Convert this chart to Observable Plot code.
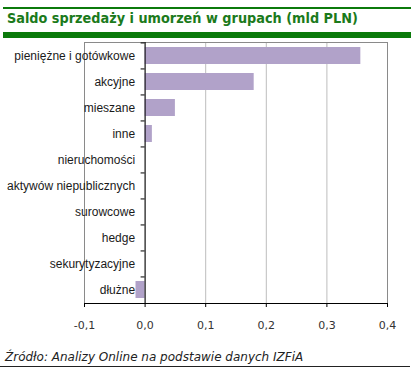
<!DOCTYPE html>
<html>
<head>
<meta charset="utf-8">
<script src="https://cdn.jsdelivr.net/npm/d3@7"></script>
<script src="https://cdn.jsdelivr.net/npm/@observablehq/plot@0.6"></script>
<style>
  html, body { margin: 0; padding: 0; background: #fff; }
  #root { position: relative; width: 413px; height: 368px; overflow: hidden; background: #fff; }
  .gline { position: absolute; background: #0b7a0b; }
  #title { position: absolute; left: 7px; top: 10px; font-family: "DejaVu Sans Condensed", "DejaVu Sans", sans-serif; font-weight: bold; font-size: 14.3px; color: #1b7a1b; white-space: nowrap; }
  #chart { position: absolute; left: 0; top: 40px; }
  #caption { position: absolute; left: 5px; top: 350px; font-family: "DejaVu Sans", sans-serif; font-style: italic; font-size: 12px; color: #222; white-space: nowrap; }
  #bline { position: absolute; left: 0; top: 366px; width: 410px; height: 1px; background: #222; }
</style>
</head>
<body>
<div id="root">
  <div class="gline" style="left:3px;top:7px;width:408px;height:2px;"></div>
  <div id="title">Saldo sprzedaży i umorzeń w grupach (mld PLN)</div>
  <div class="gline" style="left:3px;top:32px;width:408px;height:6px;"></div>
  <div id="chart"></div>
  <div id="caption">Źródło: Analizy Online na podstawie danych IZFiA</div>
  <div id="bline"></div>
</div>
<script>
const categories = ["pieniężne i gotówkowe", "akcyjne", "mieszane", "inne", "nieruchomości", "aktywów niepublicznych", "surowcowe", "hedge", "sekurytyzacyjne", "dłużne"];
const values = [0.356, 0.180, 0.050, 0.012, 0, 0, 0, 0, 0, -0.015];
const xTicks = [-0.1, 0, 0.1, 0.2, 0.3, 0.4];

const data = categories.map((c, i) => ({category: c, value: values[i]}));

const W = 413, H = 290, mT = 2, mB = 27, mL = 84, mR = 26;
const step = (H - mT - mB) / categories.length;
const k = 0.5 / (W - mL - mR); // data units per pixel
const fmt = d => d.toFixed(1).replace(".", ",");

const chart = Plot.plot({
  width: W,
  height: H,
  marginTop: mT,
  marginBottom: mB,
  marginLeft: mL,
  marginRight: mR,
  style: {background: "transparent", overflow: "visible"},
  x: {domain: [-0.1, 0.4], ticks: xTicks},
  y: {domain: categories, paddingInner: 0.34, paddingOuter: 0.17, axis: null},
  marks: [
    Plot.gridX(xTicks, {stroke: "#bdbdbd", strokeOpacity: 1}),
    Plot.frame({stroke: "#8a8a8a"}),
    Plot.barX(data, {x: "value", y: "category", fill: "#b1a2c9"}),
    Plot.text(data, {x: () => 0, y: "category", text: "category", textAnchor: "end", dx: -10, fill: "#1a1a1a", fontSize: 12, fontFamily: "'Liberation Sans', Arial, sans-serif"}),
    Plot.ruleX([0], {stroke: "#000"}),
    Plot.ruleY(categories, {y: d => d, x1: -4 * k, x2: 0, dy: -step / 2, stroke: "#000"}),
    Plot.frame({anchor: "bottom", stroke: "#000"}),
    Plot.axisX(xTicks, {tickSize: 4, tickPadding: 14, tickFormat: fmt, stroke: "#000", fill: "#333", fontSize: 11, fontFamily: "'DejaVu Sans', sans-serif", label: null})
  ]
});
document.getElementById("chart").appendChild(chart);
</script>
</body>
</html>
